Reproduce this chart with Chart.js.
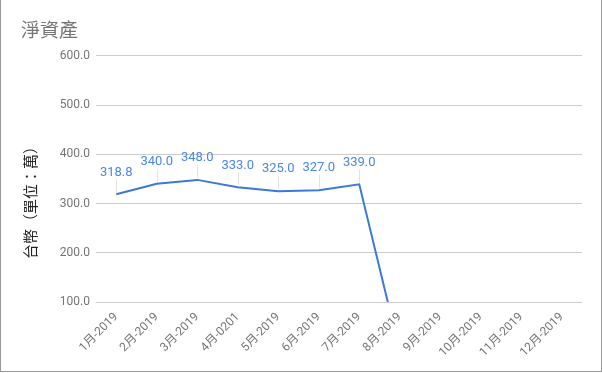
<!DOCTYPE html>
<html>
<head>
<meta charset="utf-8">
<script src="https://cdn.jsdelivr.net/npm/chart.js@4.4.0/dist/chart.umd.min.js"></script>
<style>
  html, body { margin: 0; padding: 0; background: #fff; }
  #frame {
    position: absolute; left: 0; top: 0;
    width: 602px; height: 372px; box-sizing: border-box;
    border-left: 1px solid #999; border-right: 1px solid #999; border-bottom: 1px solid #999;
  }
  #chart { display: block; }
</style>
</head>
<body>
<div id="frame"><canvas id="chart" width="600" height="371"></canvas></div>
<script>
// data
const months = ["1月-2019","2月-2019","3月-2019","4月-0201","5月-2019","6月-2019",
                "7月-2019","8月-2019","9月-2019","10月-2019","11月-2019","12月-2019"];
const netAssets = [318.8, 340.0, 348.0, 333.0, 325.0, 327.0, 339.0, 0, null, null, null, null];
const yTicks = [100, 200, 300, 400, 500, 600];
const yTitle = "台幣（單位：萬）";

const LINE_COLOR = "#3c78d8";
const LABEL_COLOR = "#4a86e8";
const CJK = "'Noto Sans CJK TC', 'Noto Sans CJK JP', sans-serif";

// labels above points, with thin leader line
const pointLabels = {
  id: "pointLabels",
  afterDatasetsDraw(chart) {
    const ctx = chart.ctx;
    const meta = chart.getDatasetMeta(0);
    const yScale = chart.scales.y;
    ctx.save();
    ctx.font = "13px Roboto";
    ctx.textAlign = "center";
    ctx.textBaseline = "middle";
    meta.data.forEach((pt, i) => {
      const v = netAssets[i];
      if (v == null || v < yScale.min || v > yScale.max) return;
      const ty = pt.y - 22;
      ctx.strokeStyle = "#e3e3e3";
      ctx.lineWidth = 1;
      ctx.beginPath();
      ctx.moveTo(Math.round(pt.x) + 0.5, ty + 7);
      ctx.lineTo(Math.round(pt.x) + 0.5, pt.y - 2);
      ctx.stroke();
      ctx.fillStyle = LABEL_COLOR;
      ctx.fillText(v.toFixed(1), pt.x, ty);
    });
    ctx.restore();
  }
};

// y axis title, centred a bit lower than the plot like the original
const sideTitle = {
  id: "sideTitle",
  afterDraw(chart) {
    const ctx = chart.ctx;
    const area = chart.chartArea;
    const cy = (area.top + area.bottom + 40) / 2;
    ctx.save();
    ctx.translate(29, cy);
    ctx.rotate(-Math.PI / 2);
    ctx.font = "15px " + CJK;
    ctx.fillStyle = "#222222";
    ctx.textAlign = "center";
    ctx.textBaseline = "middle";
    ctx.fillText(yTitle, 0, 0);
    ctx.restore();
  }
};

new Chart(document.getElementById("chart").getContext("2d"), {
  type: "line",
  data: {
    labels: months,
    datasets: [{
      data: netAssets,
      borderColor: LINE_COLOR,
      borderWidth: 2,
      pointRadius: 0,
      pointHoverRadius: 0,
      tension: 0,
      fill: false
    }]
  },
  options: {
    responsive: false,
    animation: false,
    layout: { padding: { left: 20, right: 19, top: 0, bottom: 0 } },
    plugins: {
      legend: { display: false },
      tooltip: { enabled: false },
      title: {
        display: true,
        text: "淨資產",
        align: "start",
        color: "#757575",
        font: { family: CJK, size: 19, weight: "normal" },
        padding: { top: 18, bottom: 15 }
      }
    },
    scales: {
      x: {
        offset: true,
        grid: { display: false, drawTicks: false },
        border: { display: false },
        ticks: {
          color: "#757575",
          font: { family: "Roboto, " + CJK, size: 12 },
          minRotation: 45,
          maxRotation: 45,
          autoSkip: false,
          padding: 8
        },
        afterFit: s => { s.height = 69; }
      },
      y: {
        min: 100,
        max: 600,
        afterBuildTicks: s => { s.ticks = yTicks.map(v => ({ value: v })); },
        grid: { color: "#cccccc", drawTicks: false },
        border: { display: false },
        ticks: {
          color: "#757575",
          font: { family: "Roboto", size: 12 },
          padding: 6,
          callback: v => Number(v).toFixed(1)
        },
        afterFit: s => { s.width = 75; }
      }
    }
  },
  plugins: [pointLabels, sideTitle]
});
</script>
</body>
</html>
